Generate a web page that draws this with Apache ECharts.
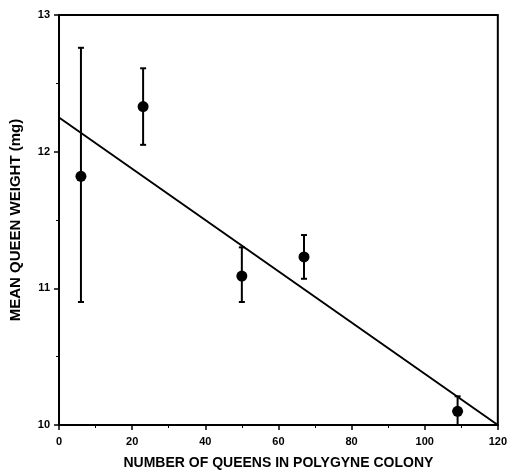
<!DOCTYPE html>
<html><head><meta charset="utf-8">
<script src="https://cdn.jsdelivr.net/npm/echarts@6/dist/echarts.min.js"></script>
<style>html,body{margin:0;padding:0;background:#fff}#c{width:510px;height:476px}</style>
</head><body><div id="c"></div>
<script>
const queens = [6, 23, 50, 67, 109];
const meanWeight = [11.82, 12.33, 11.09, 11.23, 10.10];
const errLow = [10.90, 12.05, 10.90, 11.07, 10.00];
const errHigh = [12.76, 12.61, 11.30, 11.39, 10.21];
const fitX = [0, 120];
const fitY = [12.25, 10.0];

const chart = echarts.init(document.getElementById('c'));
const ink = '#000';
chart.setOption({
  animation: false,
  backgroundColor: '#fff',
  grid: { left: 58, right: 10, top: 15, bottom: 51, show: true, borderColor: ink, borderWidth: 2, backgroundColor: 'transparent' },
  xAxis: {
    type: 'value', min: 0, max: 120, interval: 20,
    name: 'NUMBER OF QUEENS IN POLYGYNE COLONY', nameLocation: 'middle', nameGap: 31,
    nameTextStyle: { color: ink, fontFamily: 'Liberation Sans Narrow, Arial Narrow, Liberation Sans', fontWeight: 'bold', fontSize: 14 },
    axisLine: { lineStyle: { color: ink, width: 2 } },
    axisTick: { length: 5, lineStyle: { color: ink, width: 1.5 } },
    minorTick: { show: true, splitNumber: 2, length: 3, lineStyle: { color: ink } },
    axisLabel: { color: ink, fontFamily: 'Liberation Sans', fontWeight: 'bold', fontSize: 11, margin: 11 },
    splitLine: { show: false }
  },
  yAxis: {
    type: 'value', min: 10, max: 13, interval: 1,
    name: 'MEAN QUEEN WEIGHT (mg)', nameLocation: 'middle', nameGap: 36, nameRotate: 90,
    nameTextStyle: { color: ink, fontFamily: 'Liberation Sans Narrow, Arial Narrow, Liberation Sans', fontWeight: 'bold', fontSize: 15 },
    axisLine: { lineStyle: { color: ink, width: 2 } },
    axisTick: { length: 5, lineStyle: { color: ink, width: 1.5 } },
    minorTick: { show: true, splitNumber: 2, length: 3, lineStyle: { color: ink } },
    axisLabel: { color: ink, fontFamily: 'Liberation Sans', fontWeight: 'bold', fontSize: 11, margin: 9 },
    splitLine: { show: false }
  },
  series: [
    {
      type: 'line', data: fitX.map((x, i) => [x, fitY[i]]), showSymbol: false, symbol: 'none',
      lineStyle: { color: ink, width: 2 }, z: 2
    },
    {
      type: 'custom', z: 3,
      data: queens.map((x, i) => [x, errLow[i], errHigh[i]]),
      renderItem: function (params, api) {
        const lo = api.coord([api.value(0), api.value(1)]);
        const hi = api.coord([api.value(0), api.value(2)]);
        const w = 3;
        const st = { stroke: ink, lineWidth: 2 };
        return { type: 'group', children: [
          { type: 'line', shape: { x1: lo[0], y1: lo[1], x2: hi[0], y2: hi[1] }, style: st },
          { type: 'line', shape: { x1: lo[0] - w, y1: lo[1], x2: lo[0] + w, y2: lo[1] }, style: st },
          { type: 'line', shape: { x1: hi[0] - w, y1: hi[1], x2: hi[0] + w, y2: hi[1] }, style: st }
        ]};
      }
    },
    {
      type: 'scatter', data: queens.map((x, i) => [x, meanWeight[i]]),
      symbol: 'circle', symbolSize: 11, itemStyle: { color: ink, opacity: 1 }, z: 4
    }
  ]
});
</script></body></html>
